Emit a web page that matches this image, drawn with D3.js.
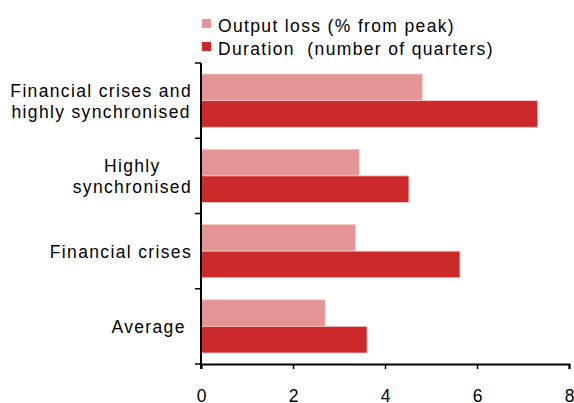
<html>
<head>
<script src="https://d3js.org/d3.v7.min.js"></script>
<style>
  body { margin: 0; background: #fff; }
  text { font-family: "Liberation Sans", Arial, sans-serif; font-size: 17.5px; fill: #000; }
</style>
</head>
<body>
<div id="chart"></div>
<script>

// chart data
var categories = [
  ["Financial crises and", "highly synchronised"],
  ["Highly", "synchronised"],
  ["Financial crises"],
  ["Average\u00a0"]
];
var seriesNames = ["Output loss (% from peak)", "Duration  (number of quarters)"];
var outputLoss = [4.81, 3.44, 3.36, 2.70];
var duration = [7.32, 4.52, 5.63, 3.61];
var xTicks = [0, 2, 4, 6, 8];

var colors = ["#e49494", "#cc292b"];
var W = 574, H = 403;
var spacing = "1.35px";

var svg = d3.select("#chart").append("svg")
            .attr("width", W)
            .attr("height", H);

var keys = categories.map((c, i) => "c" + i);
var x = d3.scaleLinear().domain([0, 8]).range([201, 569]);
var y0 = d3.scaleBand().domain(keys).range([63, 364]);
var y1 = d3.scaleBand().domain([0, 1]).range([11, y0.bandwidth() - 11]);

var rows = keys.map((k, i) => ({ key: k, vals: [outputLoss[i], duration[i]] }));

// bars
var groups = svg.selectAll("g.grp")
   .data(rows)
   .enter()
   .append("g")
   .attr("class", "grp")
   .attr("transform", d => "translate(0," + y0(d.key) + ")");

groups.selectAll("rect")
   .data(d => d.vals.map((v, s) => ({ v: v, s: s })))
   .enter()
   .append("rect")
   .attr("x", x(0))
   .attr("y", d => y1(d.s))
   .attr("width", d => x(d.v) - x(0))
   .attr("height", y1.bandwidth())
   .attr("fill", d => colors[d.s])
   .attr("stroke", "#f4cccc")
   .attr("stroke-width", 0.8);

// x axis
var xAxis = d3.axisBottom(x)
   .tickValues(xTicks)
   .tickSize(5)
   .tickPadding(21)
   .tickFormat(d3.format("d"));

var gx = svg.append("g")
   .attr("transform", "translate(0,364)")
   .call(xAxis);
gx.select(".domain").attr("stroke", "#000").attr("stroke-width", 2);
gx.selectAll(".tick line").attr("stroke", "#000").attr("stroke-width", 1.5);
gx.selectAll(".tick text")
   .style("font-family", "'Liberation Sans', Arial, sans-serif")
   .style("font-size", "17.5px")
   .attr("fill", "#000");

// y axis line and ticks at band edges
var edges = keys.map(k => y0(k)).concat([y0.range()[1]]);
svg.append("line")
   .attr("x1", x(0)).attr("x2", x(0))
   .attr("y1", edges[0]).attr("y2", edges[edges.length - 1] + 5)
   .attr("stroke", "#000").attr("stroke-width", 2);
svg.selectAll("line.ytick")
   .data(edges)
   .enter()
   .append("line")
   .attr("class", "ytick")
   .attr("x1", x(0) - 6).attr("x2", x(0))
   .attr("y1", d => d).attr("y2", d => d)
   .attr("stroke", "#000").attr("stroke-width", 1.5);

// category labels, multi-line ones centred on each other
var labelRight = 192;
rows.forEach((r, i) => {
  var lines = categories[i];
  var c = y0(r.key) + y0.bandwidth() / 2;
  var t = svg.append("text")
     .attr("text-anchor", "middle")
     .style("letter-spacing", spacing);
  var base = lines.length > 1 ? c - 3.5 : c + 6.5;
  lines.forEach((ln, j) => {
    t.append("tspan")
     .attr("y", base + j * 20.5)
     .text(ln);
  });
  var wmax = d3.max(t.selectAll("tspan").nodes(), n => n.getComputedTextLength());
  t.selectAll("tspan").attr("x", labelRight - wmax / 2);
});

// legend
var legend = svg.selectAll("g.legend")
   .data(seriesNames)
   .enter()
   .append("g")
   .attr("class", "legend")
   .attr("transform", (d, i) => "translate(202," + (19 + i * 23) + ")");

legend.append("rect")
   .attr("width", 9)
   .attr("height", 9)
   .attr("fill", (d, i) => colors[i]);

legend.append("text")
   .attr("x", 16)
   .attr("y", 12.5)
   .style("letter-spacing", spacing)
   .style("white-space", "pre")
   .text(d => d);

</script>
</body>
</html>
